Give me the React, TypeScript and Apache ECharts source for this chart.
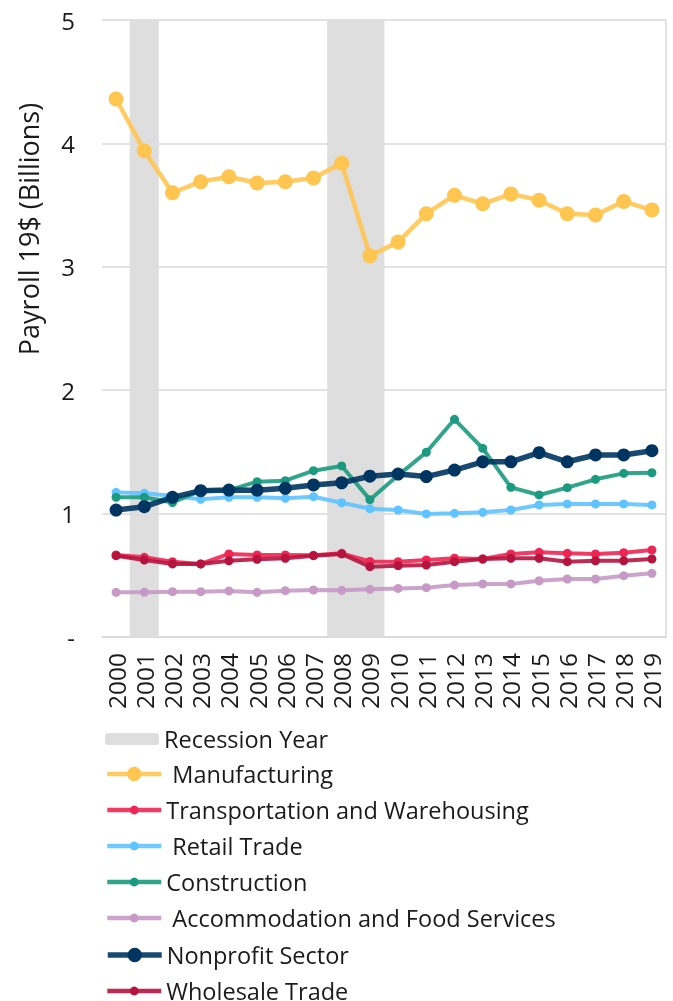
import React, { useEffect, useRef } from "react";
import * as echarts from "echarts";

const years = ["2000","2001","2002","2003","2004","2005","2006","2007","2008","2009","2010","2011","2012","2013","2014","2015","2016","2017","2018","2019"];
const recession = [null,5,null,null,null,null,null,null,5,5,null,null,null,null,null,null,null,null,null,null];
const manufacturing = [4.36,3.94,3.60,3.69,3.73,3.68,3.69,3.72,3.84,3.09,3.20,3.43,3.58,3.51,3.59,3.54,3.43,3.42,3.53,3.46];
const transportation = [0.665,0.646,0.61,0.592,0.673,0.665,0.665,0.662,0.678,0.612,0.61,0.624,0.638,0.632,0.673,0.686,0.678,0.673,0.683,0.705];
const retail = [1.172,1.164,1.143,1.116,1.132,1.132,1.124,1.137,1.088,1.04,1.029,0.997,1.002,1.01,1.029,1.07,1.078,1.078,1.078,1.07];
const construction = [1.132,1.132,1.09,1.186,1.19,1.259,1.267,1.348,1.386,1.113,1.31,1.497,1.764,1.529,1.213,1.151,1.21,1.278,1.326,1.331];
const accommodation = [0.362,0.362,0.367,0.367,0.373,0.362,0.375,0.381,0.378,0.386,0.394,0.40,0.421,0.43,0.43,0.456,0.47,0.47,0.497,0.516];
const nonprofit = [1.029,1.056,1.132,1.186,1.191,1.19,1.205,1.232,1.25,1.303,1.32,1.30,1.353,1.42,1.42,1.494,1.42,1.475,1.475,1.51];
const wholesale = [0.659,0.624,0.592,0.592,0.618,0.63,0.638,0.659,0.673,0.57,0.578,0.583,0.61,0.632,0.638,0.638,0.61,0.618,0.618,0.632];
const yTicks = [0, 1, 2, 3, 4, 5];

const FONT = "Open Sans";
const TXT = "#1a1a1a";

function lineSeries(name: string, data: number[], color: string, width: number, sym: number) {
  return {
    type: "line",
    name,
    data,
    symbol: "circle",
    symbolSize: sym,
    lineStyle: { color, width, opacity: 0.9 },
    itemStyle: { color, opacity: 1 },
    emphasis: { disabled: true },
  };
}

export default function App() {
  const ref = useRef<HTMLDivElement>(null);
  useEffect(() => {
    if (!ref.current) return;
    const chart = echarts.init(ref.current, undefined, { renderer: "svg" });
    const legendText = { fontFamily: FONT, fontSize: 23.5, color: TXT, lineHeight: 24 };
    const legendBase = { orient: "vertical", left: 100, itemWidth: 54, textStyle: legendText, itemGap: 12, selectedMode: false };
    chart.setOption({
      animation: false,
      textStyle: { fontFamily: FONT },
      grid: { left: 102, right: 7, top: 20, bottom: 364, containLabel: false },
      legend: [
        { ...legendBase, top: 722, itemHeight: 12, data: ["Recession Year"] },
        { ...legendBase, top: 757, itemHeight: 18, lineStyle: { width: 4.5 }, data: [" Manufacturing"] },
        { ...legendBase, top: 793, itemHeight: 11, lineStyle: { width: 4.5 }, data: ["Transportation and Warehousing", " Retail Trade", "Construction", " Accommodation and Food Services"] },
        { ...legendBase, top: 938, itemHeight: 18, lineStyle: { width: 5.5 }, data: ["Nonprofit Sector"] },
        { ...legendBase, top: 974, itemHeight: 11, lineStyle: { width: 4.5 }, data: ["Wholesale Trade"] },
      ],
      graphic: [
        {
          type: "text",
          x: 28,
          y: 229,
          rotation: Math.PI / 2,
          style: { text: "Payroll 19$ (Billions)", fontFamily: FONT, fontSize: 27, fill: TXT, align: "center", verticalAlign: "middle" },
        },
      ],
      xAxis: {
        type: "category",
        data: years,
        boundaryGap: true,
        axisLine: { show: true, lineStyle: { color: "#d9d9d9", width: 1.5 } },
        axisTick: { show: false },
        axisLabel: { rotate: 90, interval: 0, margin: 16, fontFamily: FONT, fontSize: 24.5, color: TXT },
        splitLine: { show: false },
      },
      yAxis: [
        {
          type: "value",
          min: yTicks[0],
          max: yTicks[yTicks.length - 1],
          interval: 1,
          axisLine: { show: false },
          axisTick: { show: false },
          axisLabel: {
            margin: 27,
            fontFamily: FONT,
            fontSize: 24,
            color: TXT,
            formatter: (v: number) => (v === 0 ? "-" : String(v)),
          },
          splitLine: { show: true, lineStyle: { color: "#d9d9d9", width: 1.5 } },
        },
        {
          type: "value",
          position: "right",
          min: yTicks[0],
          max: yTicks[yTicks.length - 1],
          interval: 1,
          axisLine: { show: true, lineStyle: { color: "#d9d9d9", width: 1.5 } },
          axisTick: { show: false },
          axisLabel: { show: false },
          splitLine: { show: false },
        },
      ],
      series: [
        {
          type: "bar",
          name: "Recession Year",
          data: recession,
          barWidth: "103%",
          barCategoryGap: "0%",
          itemStyle: { color: "#dedede" },
          emphasis: { disabled: true },
          z: 1,
        },
        lineSeries(" Manufacturing", manufacturing, "#ffc551", 4.5, 15),
        lineSeries("Transportation and Warehousing", transportation, "#ee2653", 4, 9),
        lineSeries(" Retail Trade", retail, "#5fc3ff", 4, 9),
        lineSeries("Construction", construction, "#1b9a80", 4, 9),
        lineSeries(" Accommodation and Food Services", accommodation, "#c799c5", 4, 9),
        lineSeries("Nonprofit Sector", nonprofit, "#003562", 5.5, 13),
        lineSeries("Wholesale Trade", wholesale, "#b5143f", 4, 9),
      ],
    });
    return () => chart.dispose();
  }, []);
  return <div ref={ref} style={{ position: "fixed", left: 0, top: 0, width: 673, height: 1001 }} />;
}
